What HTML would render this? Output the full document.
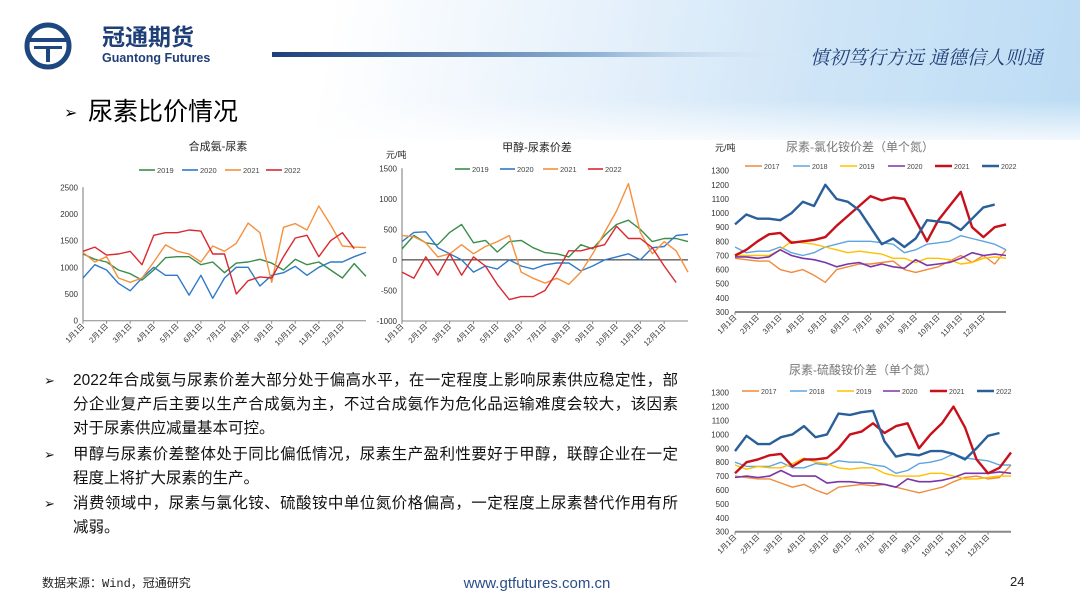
<!DOCTYPE html>
<html><head><meta charset="utf-8">
<style>
html,body{margin:0;padding:0;}
body{width:1080px;height:608px;position:relative;overflow:hidden;background:#fff;font-family:"Liberation Sans","Noto Sans CJK SC",sans-serif;}
.bg{position:absolute;left:0;top:0;width:1080px;height:140px;background:linear-gradient(100deg,#fff 0%,#fff 30%,#e6f1fb 55%,#cfe5f7 75%,#bcdcf4 100%);}
.bg2{position:absolute;left:0;top:100px;width:1080px;height:50px;background:linear-gradient(180deg,rgba(255,255,255,0),#fff);}
.txt{position:absolute;left:44px;top:369px;width:634px;font-size:15.5px;color:#111;line-height:24px;}
.txt .b{position:relative;padding-left:29px;}
.txt .b:before{content:"➢";position:absolute;left:0;top:0;font-size:13px;}
.txt .b+.b{margin-top:1.5px;}
.txt .l{display:block;white-space:nowrap;text-align:justify;text-align-last:justify;}
.txt .l.e{text-align-last:left;}
</style></head><body>
<div class="bg"></div>
<div class="bg2"></div>
<svg width="1080" height="608" style="position:absolute;left:0;top:0" id="svg">
 <defs><linearGradient id="bar" x1="0" x2="1"><stop offset="0" stop-color="#1d3f7c"/><stop offset="0.6" stop-color="#8fb2d6"/><stop offset="1" stop-color="#e8f1fa" stop-opacity="0"/></linearGradient></defs>
 <g>
  <circle cx="48" cy="46" r="21" fill="none" stroke="#1f477f" stroke-width="5"/>
  <rect x="30" y="38" width="36" height="4" fill="#1f477f"/>
  <rect x="34" y="46" width="28" height="3" fill="#1f477f"/>
  <rect x="46" y="46" width="4" height="16" fill="#1f477f"/>
 </g>
 <text x="102" y="45" font-size="23" font-weight="bold" fill="#1f3f78" font-family="Liberation Sans,Noto Sans CJK SC,sans-serif">冠通期货</text>
 <text x="102" y="62" font-size="12.5" fill="#1f3f78" font-weight="bold">Guantong Futures</text>
 <rect x="272" y="52" width="540" height="5" fill="url(#bar)"/>
 <text x="810" y="64" font-size="19" fill="#1f3f78" font-style="italic" font-family="Noto Serif CJK SC,serif">慎初笃行方远  通德信人则通</text>
 <text x="64" y="118" font-size="16" fill="#000">➢</text>
 <text x="88" y="120" font-size="25" fill="#000" font-family="Liberation Sans,Noto Sans CJK SC,sans-serif">尿素比价情况</text>
 <text x="42" y="587" font-size="12" fill="#222" font-family="Liberation Mono,Noto Sans CJK SC,monospace">数据来源：Wind，冠通研究</text>
 <text x="537" y="588" font-size="15" fill="#2a4f8a" text-anchor="middle">www.gtfutures.com.cn</text>
 <text x="1010" y="586" font-size="13" fill="#222">24</text>
</svg>
<div class="txt">
 <div class="b"><span class="l">2022年合成氨与尿素价差大部分处于偏高水平，在一定程度上影响尿素供应稳定性，部</span><span class="l">分企业复产后主要以生产合成氨为主，不过合成氨作为危化品运输难度会较大，该因素</span><span class="l e">对于尿素供应减量基本可控。</span></div>
 <div class="b"><span class="l">甲醇与尿素价差整体处于同比偏低情况，尿素生产盈利性要好于甲醇，联醇企业在一定</span><span class="l e">程度上将扩大尿素的生产。</span></div>
 <div class="b"><span class="l">消费领域中，尿素与氯化铵、硫酸铵中单位氮价格偏高，一定程度上尿素替代作用有所</span><span class="l e">减弱。</span></div>
</div>
<script>
const months = ["1月1日","2月1日","3月1日","4月1日","5月1日","6月1日","7月1日","8月1日","9月1日","10月1日","11月1日","12月1日"];
// Chart 1: 合成氨-尿素 (half-month samples)
const c1Years = ["2019","2020","2021","2022"];
const c1_2019 = [1250,1150,1100,950,880,760,950,1180,1200,1200,1050,1100,900,1080,1100,1150,1080,950,1150,1050,1100,950,800,1070,830];
const c1_2020 = [800,1050,950,700,560,800,1000,850,850,480,850,420,800,1000,1000,650,850,900,1020,850,1000,1100,1100,1200,1280];
const c1_2021 = [1280,1100,1200,800,720,800,1100,1420,1300,1250,1100,1400,1300,1450,1830,1650,720,1750,1820,1700,2150,1800,1400,1380,1370];
const c1_2022 = [1300,1380,1230,1250,1300,1050,1600,1650,1650,1700,1680,1250,1250,500,750,820,800,1200,1550,1600,1200,1500,1650,1350];
// Chart 2: 甲醇-尿素价差
const c2Years = ["2019","2020","2021","2022"];
const c2_2019 = [180,400,280,250,450,580,280,320,130,300,320,200,120,100,50,250,180,400,580,650,500,300,350,350,300];
const c2_2020 = [300,450,460,200,100,0,-200,-100,-150,0,-100,-150,-80,-50,-50,-180,-100,0,50,100,0,200,220,400,420];
const c2_2021 = [400,380,280,50,100,250,100,220,300,400,-200,-300,-380,-300,-400,-200,100,450,800,1250,450,100,300,150,-200];
const c2_2022 = [-200,-300,50,-250,100,-250,50,-100,-400,-650,-600,-600,-500,-200,150,150,200,250,550,350,350,200,-100,-370];
// Chart 3: 尿素-氯化铵价差
const c3Years = ["2017","2018","2019","2020","2021","2022"];
const c3_2017 = [680,670,660,660,600,580,600,560,510,600,620,640,640,650,660,600,580,600,620,660,700,650,700,640,740];
const c3_2018 = [760,720,730,730,760,720,700,720,760,780,800,800,800,790,780,720,740,780,790,800,840,820,800,780,740];
const c3_2019 = [700,700,700,700,740,800,790,780,760,740,720,730,720,710,680,680,650,680,680,670,640,650,680,690,680];
const c3_2020 = [690,690,680,690,740,700,680,670,650,620,640,650,620,640,620,610,670,630,640,650,680,720,700,710,700];
const c3_2021 = [700,740,800,850,860,790,800,810,830,910,980,1050,1120,1090,1110,1100,950,800,950,1050,1150,900,830,900,920];
const c3_2022 = [920,990,960,960,950,1000,1080,1050,1200,1100,1080,1020,900,780,820,760,820,950,940,930,880,960,1040,1060];
// Chart 4: 尿素-硫酸铵价差
const c4Years = ["2017","2018","2019","2020","2021","2022"];
const c4_2017 = [700,690,680,680,650,620,640,600,570,620,630,640,630,640,620,600,580,600,620,660,690,700,680,690,780];
const c4_2018 = [800,770,770,770,800,760,760,790,780,810,800,800,780,770,720,740,790,800,820,860,830,820,810,780,780];
const c4_2019 = [780,750,770,760,760,790,830,800,790,760,750,760,760,720,700,700,700,720,720,700,680,680,690,700,700];
const c4_2020 = [690,700,690,700,740,700,700,700,650,660,660,650,650,640,620,680,660,660,670,690,720,720,720,730,720];
const c4_2021 = [720,800,820,850,860,770,820,820,830,900,1000,1020,1080,1010,1060,1080,900,1000,1080,1200,1050,820,720,760,870];
const c4_2022 = [880,990,930,930,980,1000,1060,980,1000,1150,1140,1160,1170,950,840,860,850,880,880,860,820,900,990,1010];

const NS="http://www.w3.org/2000/svg";
const svg=document.getElementById('svg');
function mk(tag,attrs,parent){const e=document.createElementNS(NS,tag);for(const k in attrs)e.setAttribute(k,attrs[k]);(parent||svg).appendChild(e);return e;}

function drawChart(cfg){
  const g=mk('g',{});
  
  
  const xS=t=>cfg.x0+t/12*(cfg.x1-cfg.x0);
  const yS=v=>cfg.yb-(v-cfg.vmin)/(cfg.vmax-cfg.vmin)*(cfg.yb-cfg.yt);
  const ti=mk('text',{x:cfg.tx,y:cfg.ty,'font-size':cfg.tsize||11,'text-anchor':'middle',fill:cfg.tcol||'#222'},g);
  ti.textContent=cfg.title;
  
  
  if(cfg.unit){const u=mk('text',{x:cfg.ux,y:cfg.uy,'font-size':9,fill:'#222'},g);u.textContent='元/吨';
    
    }
  for(let v=cfg.vmin;v<=cfg.vmax;v+=cfg.step){
    const t=mk('text',{x:cfg.x0-cfg.lab,y:yS(v)+3,'font-size':cfg.fs||8,'text-anchor':'end',fill:'#333'},g);
    t.textContent=v;
    
    
  }
  if(cfg.yaxis) mk('line',{x1:cfg.x0,x2:cfg.x0,y1:cfg.yt,y2:cfg.yb,stroke:'#777','stroke-width':1},g);
  const by=cfg.zero?yS(0):cfg.yb;
  mk('line',{x1:cfg.x0,x2:cfg.x1,y1:cfg.yb,y2:cfg.yb,stroke:'#888','stroke-width':cfg.thick?2:1},g);
  if(cfg.zero) mk('line',{x1:cfg.x0,x2:cfg.x1,y1:by,y2:by,stroke:'#222','stroke-width':1},g);
  months.forEach((m,k)=>{
    const x=xS(k);
    mk('line',{x1:x,x2:x,y1:cfg.yb,y2:cfg.yb+3,stroke:'#888'},g);
    const t=mk('text',{x:x+2,y:cfg.yb+6,'font-size':7.5,'text-anchor':'end',fill:'#333',transform:`rotate(-45 ${x+2} ${cfg.yb+6})`},g);
    t.textContent=m;
    
    
  });
  cfg.series.forEach((s,i)=>{
    const d=s.vals.map((v,j)=>(j?'L':'M')+xS(j*0.5).toFixed(1)+','+yS(v).toFixed(1)).join(' ');
    const p=mk('path',{d:d,fill:'none',stroke:cfg.colors[i],'stroke-width':cfg.widths?cfg.widths[i]:1.4,'stroke-linejoin':'round'},g);
    
    
    const lx=cfg.legX[i];
    const lg=mk('g',{},g);
    
    
    mk('line',{x1:lx,x2:lx+cfg.legLen,y1:cfg.legY,y2:cfg.legY,stroke:cfg.colors[i],'stroke-width':cfg.widths?cfg.widths[i]:1.6},lg);
    const lt=mk('text',{x:lx+cfg.legLen+2,y:cfg.legY+3,'font-size':cfg.legFs||7.5,fill:'#444'},lg);
    lt.textContent=cfg.years[i];
  });
}
drawChart({name:'chart-ammonia-urea',title:'合成氨-尿素',tx:218,ty:150,x0:83,x1:366,yt:187.3,yb:320.7,vmin:0,vmax:2500,step:500,lab:5,yaxis:true,
  years:c1Years,series:[{vals:c1_2019},{vals:c1_2020},{vals:c1_2021},{vals:c1_2022}],
  colors:['#3a8d4a','#2f7ac8','#f5913e','#d9282f'],legX:[139,182,225,266],legY:170,legLen:16});
drawChart({name:'chart-methanol-urea',title:'甲醇-尿素价差',tx:537,ty:151,unit:true,ux:386,uy:158,x0:402,x1:688,yt:168.3,yb:321,vmin:-1000,vmax:1500,step:500,lab:5,yaxis:true,zero:true,
  years:c2Years,series:[{vals:c2_2019},{vals:c2_2020},{vals:c2_2021},{vals:c2_2022}],
  colors:['#3a8d4a','#2f7ac8','#f5913e','#d9282f'],legX:[455,500,543,588],legY:169,legLen:15});
const c34colors=['#f08a3c','#5ea5e0','#ffc000','#7a35a8','#c8101a','#2a5f9a'];
const c34w=[1.4,1.4,1.4,1.6,2.4,2.4];
drawChart({name:'chart-urea-ammonium-chloride',title:'尿素-氯化铵价差（单个氮）',tx:860,ty:151,tsize:12,tcol:'#777',unit:true,ux:715,uy:151,x0:735,x1:1006,yt:170.7,yb:312,vmin:300,vmax:1300,step:100,lab:6,thick:true,
  years:c3Years,series:[{vals:c3_2017},{vals:c3_2018},{vals:c3_2019},{vals:c3_2020},{vals:c3_2021},{vals:c3_2022}],
  colors:c34colors,widths:c34w,legX:[745,793,840,888,935,982],legY:166,legLen:17,legFs:7});
drawChart({name:'chart-urea-ammonium-sulfate',title:'尿素-硫酸铵价差（单个氮）',tx:863,ty:374,tsize:12,tcol:'#777',x0:735,x1:1011,yt:392.7,yb:531.7,vmin:300,vmax:1300,step:100,lab:6,thick:true,
  years:c4Years,series:[{vals:c4_2017},{vals:c4_2018},{vals:c4_2019},{vals:c4_2020},{vals:c4_2021},{vals:c4_2022}],
  colors:c34colors,widths:c34w,legX:[742,790,837,883,930,977],legY:391,legLen:17,legFs:7});
</script>
</body></html>
